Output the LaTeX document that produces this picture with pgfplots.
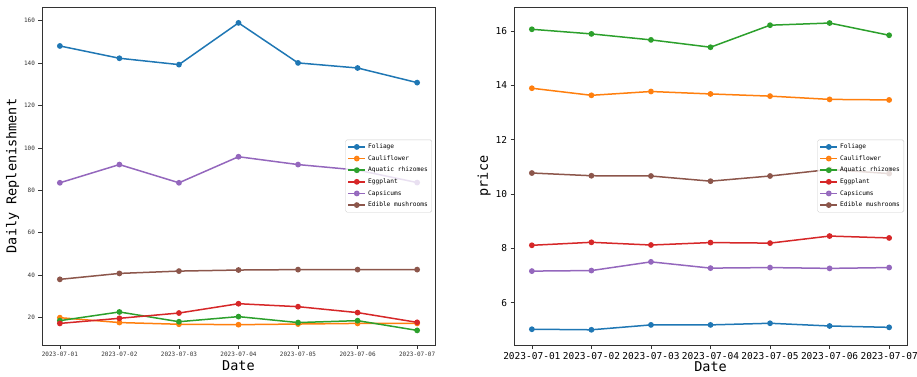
\documentclass[border=0pt]{standalone}
\usepackage{fontspec}
\usepackage{pgfplots}
\pgfplotsset{compat=1.18}
\newfontfamily\monof{DejaVu Sans Mono}
\definecolor{c0}{HTML}{1F77B4}
\definecolor{c1}{HTML}{FF7F0E}
\definecolor{c2}{HTML}{2CA02C}
\definecolor{c3}{HTML}{D62728}
\definecolor{c4}{HTML}{9467BD}
\definecolor{c5}{HTML}{8C564B}
\pgfplotsset{
  base/.style={
    scale only axis, width=393pt, height=338pt,
    xmin=-0.3, xmax=6.3,
    xtick={0,1,2,3,4,5,6},
    xticklabels={2023-07-01,2023-07-02,2023-07-03,2023-07-04,2023-07-05,2023-07-06,2023-07-07},
    axis line style={black!80, line width=0.8pt},
    tick style={black!80, line width=0.6pt},
    tick align=outside, major tick length=3.5pt,
    xtick pos=bottom, ytick pos=left,
    /pgf/number format/assume math mode=true,
    xlabel={Date},
    label style={font=\monof\fontsize{13.5}{15}\selectfont},
    every axis plot/.append style={line width=1.5pt, mark=*, mark size=2.1pt},
    legend cell align=left,
    legend style={at={(1,0.5)}, anchor=east, xshift=-3pt,
      font=\monof\fontsize{6.2}{7}\selectfont,
      draw=black!20, fill=white, fill opacity=0.8, text opacity=1,
      rounded corners=1.5pt, row sep=1.4pt, inner sep=2pt},
  },
}
\begin{document}
\begin{tikzpicture}
\useasboundingbox (0,0) rectangle (917pt,376pt);
\begin{axis}[base, at={(42pt,31pt)}, anchor=south west,
  ymin=6.9, ymax=166.5, ytick={20,40,60,80,100,120,140,160},
  tick label style={font=\monof\fontsize{6}{7}\selectfont, text=black!80},
  ylabel={Daily Replenishment},
  ylabel style={yshift=-2pt},
  xlabel style={yshift=3pt},
]
\addplot[c0] coordinates {(0,148.1)(1,142.3)(2,139.3)(3,159.0)(4,140.1)(5,137.7)(6,130.8)};
\addlegendentry{Foliage}
\addplot[c1] coordinates {(0,19.8)(1,17.5)(2,16.7)(3,16.5)(4,16.8)(5,17.1)(6,17.1)};
\addlegendentry{Cauliflower}
\addplot[c2] coordinates {(0,18.4)(1,22.5)(2,17.9)(3,20.3)(4,17.5)(5,18.4)(6,13.8)};
\addlegendentry{Aquatic rhizomes}
\addplot[c3] coordinates {(0,17.1)(1,19.5)(2,22.0)(3,26.4)(4,25.0)(5,22.2)(6,17.6)};
\addlegendentry{Eggplant}
\addplot[c4] coordinates {(0,83.5)(1,92.1)(2,83.5)(3,95.8)(4,92.1)(5,89.5)(6,83.6)};
\addlegendentry{Capsicums}
\addplot[c5] coordinates {(0,37.9)(1,40.7)(2,41.8)(3,42.3)(4,42.5)(5,42.5)(6,42.5)};
\addlegendentry{Edible mushrooms}
\end{axis}
\begin{axis}[base, at={(514pt,31pt)}, anchor=south west,
  ymin=4.44, ymax=16.88, ytick={6,8,10,12,14,16},
  tick label style={font=\monof\fontsize{9.5}{11}\selectfont},
  ylabel={price},
  ylabel style={yshift=-2pt},
  xlabel style={yshift=4pt},
]
\addplot[c0] coordinates {(0,5.02)(1,5.00)(2,5.18)(3,5.18)(4,5.24)(5,5.14)(6,5.09)};
\addlegendentry{Foliage}
\addplot[c1] coordinates {(0,13.89)(1,13.63)(2,13.77)(3,13.68)(4,13.60)(5,13.48)(6,13.46)};
\addlegendentry{Cauliflower}
\addplot[c2] coordinates {(0,16.06)(1,15.89)(2,15.67)(3,15.40)(4,16.21)(5,16.29)(6,15.84)};
\addlegendentry{Aquatic rhizomes}
\addplot[c3] coordinates {(0,8.11)(1,8.22)(2,8.12)(3,8.21)(4,8.19)(5,8.45)(6,8.38)};
\addlegendentry{Eggplant}
\addplot[c4] coordinates {(0,7.16)(1,7.18)(2,7.50)(3,7.27)(4,7.29)(5,7.26)(6,7.29)};
\addlegendentry{Capsicums}
\addplot[c5] coordinates {(0,10.77)(1,10.67)(2,10.66)(3,10.47)(4,10.66)(5,10.90)(6,10.75)};
\addlegendentry{Edible mushrooms}
\end{axis}
\end{tikzpicture}
\end{document}
